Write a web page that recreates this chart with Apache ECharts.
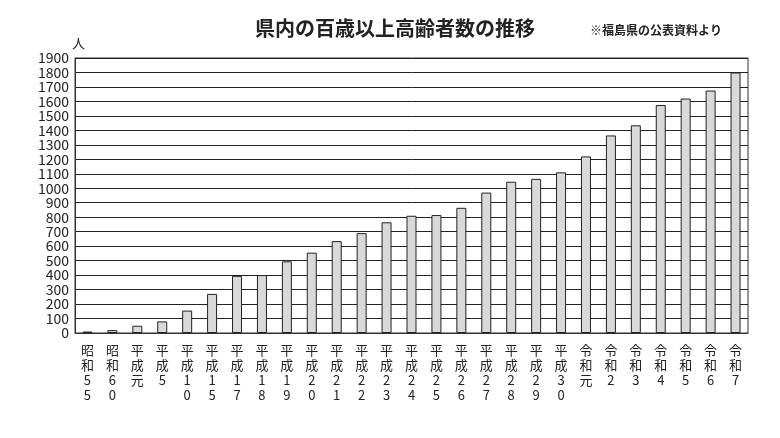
<!DOCTYPE html>
<html><head><meta charset="utf-8">
<script src="https://cdn.jsdelivr.net/npm/echarts@6/dist/echarts.min.js"></script>
<style>html,body{margin:0;padding:0;background:#fff}#c{width:780px;height:438px}</style>
</head><body><div id="c"></div>
<script>
const categories = ["昭和55","昭和60","平成元","平成5","平成10","平成15","平成17","平成18","平成19","平成20","平成21","平成22","平成23","平成24","平成25","平成26","平成27","平成28","平成29","平成30","令和元","令和2","令和3","令和4","令和5","令和6","令和7"];
const values = [10,20,50,80,155,270,395,400,495,555,635,690,765,810,815,865,970,1045,1065,1110,1220,1365,1435,1575,1620,1675,1800];
const title = "県内の百歳以上高齢者数の推移";
const note = "※福島県の公表資料より";
const unit = "人";
const font = "'Noto Sans CJK JP', sans-serif";
const chart = echarts.init(document.getElementById('c'));
chart.setOption({
  animation:false,
  graphic:[
    {type:'text',left:255,top:18,style:{text:title,font:"bold 20px "+font,fill:'#222'}},
    {type:'text',left:590,top:24,style:{text:note,font:"bold 12px "+font,fill:'#222'}},
    {type:'text',left:72,top:37,style:{text:unit,font:"13px "+font,fill:'#222'}}
  ],
  grid:{left:75,right:32,top:58,bottom:105,show:true,borderColor:'#333',borderWidth:1},
  xAxis:{type:'category',data:categories,
    axisLine:{lineStyle:{color:'#333'}},axisTick:{show:false},
    axisLabel:{interval:0,color:'#222',fontFamily:font,fontSize:13,lineHeight:15,margin:10,
      formatter:v=>v.split('').join('\n')}},
  yAxis:{type:'value',min:0,max:1900,interval:100,
    axisLine:{show:true,lineStyle:{color:'#333'}},axisTick:{show:false},
    splitLine:{lineStyle:{color:'#222',width:1}},
    axisLabel:{color:'#222',fontFamily:font,fontSize:14,margin:6,formatter:v=>String(v)}},
  series:[{type:'bar',data:values,barWidth:10,
    itemStyle:{color:'#d9d9d9',borderColor:'#222',borderWidth:1}}]
});
</script></body></html>
